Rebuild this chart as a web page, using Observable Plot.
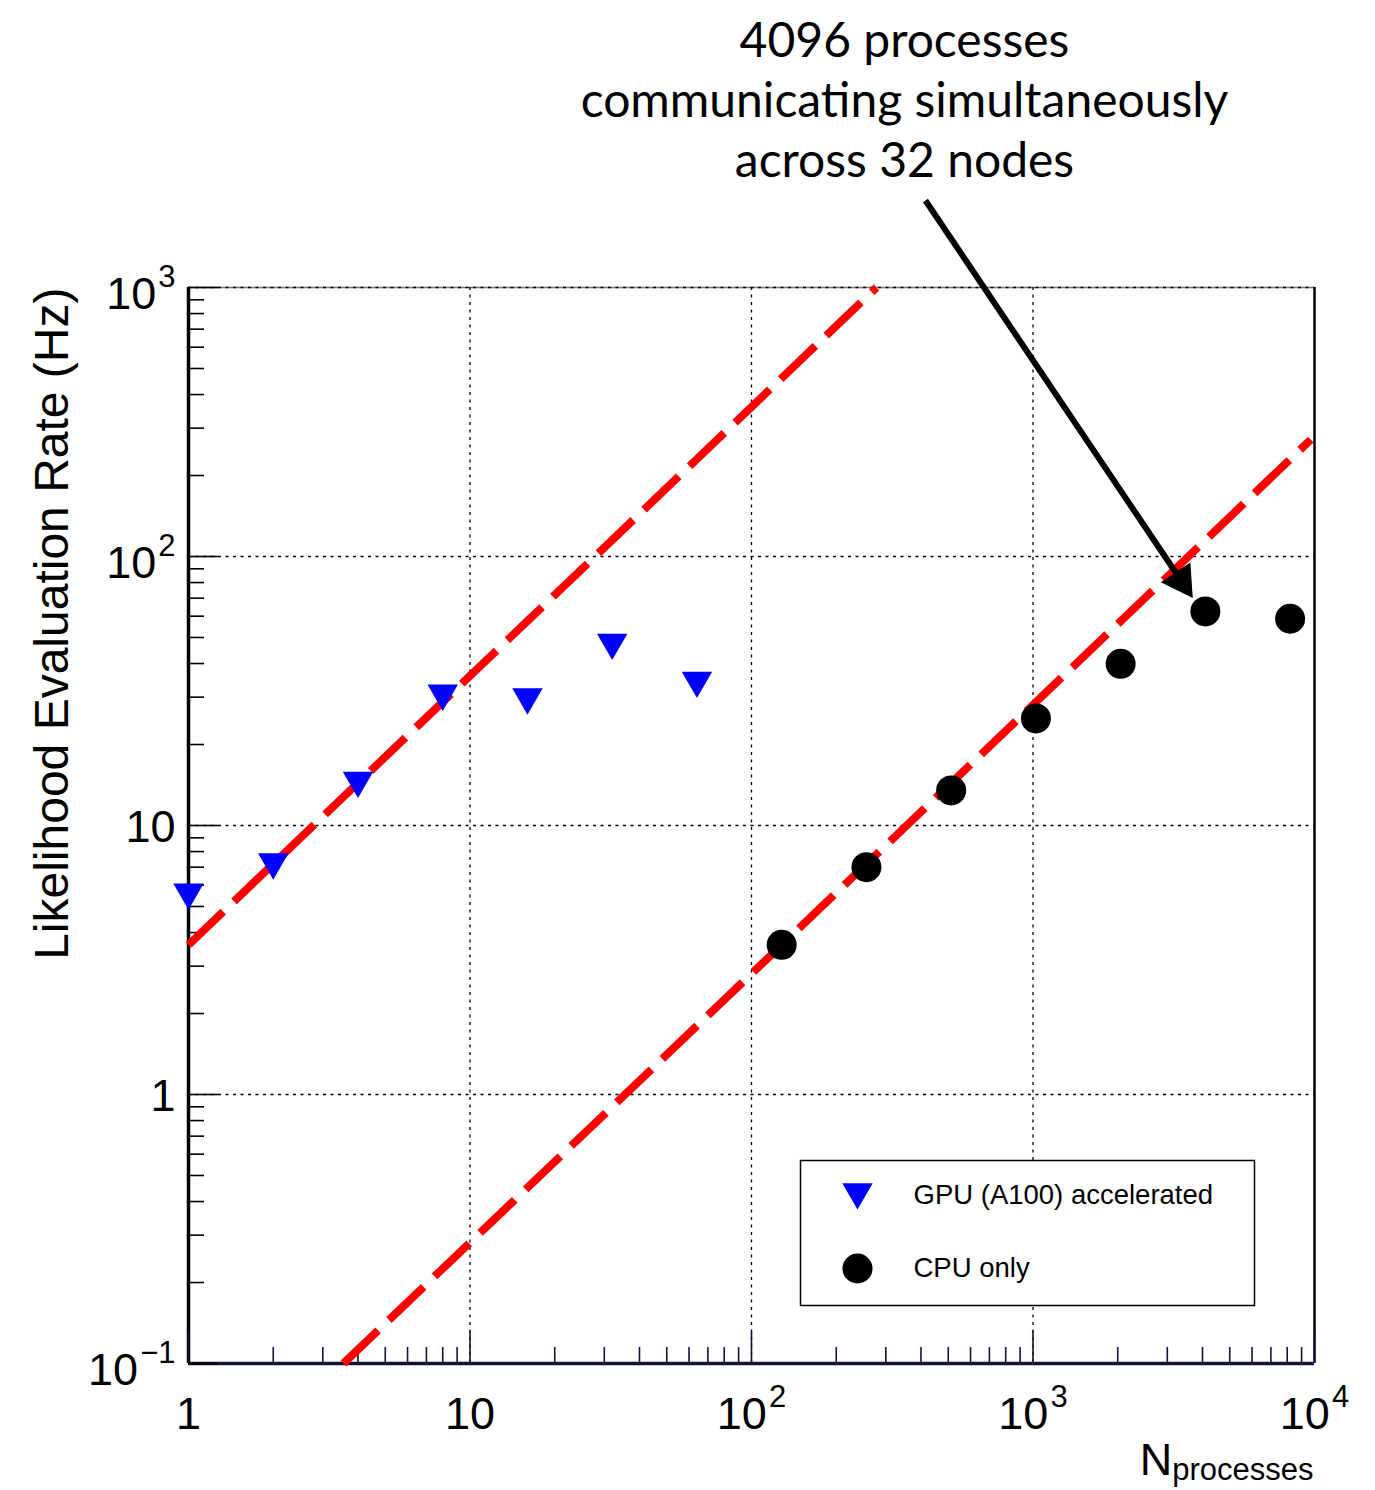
<!DOCTYPE html>
<html><head><meta charset="utf-8">
<script src="https://cdn.jsdelivr.net/npm/d3@7"></script>
<script src="https://cdn.jsdelivr.net/npm/@observablehq/plot@0.6"></script>
<style>body{margin:0;background:#fff} #chart svg{display:block;background:#fff}</style>
</head><body><div id="chart"></div>
<script>
// ---- data ----
const gpuProcesses = [1, 2, 4, 8, 16, 32, 64];
const gpuRate      = [5.65, 7.31, 14.7, 31.0, 30.0, 47.9, 34.6];
const cpuProcesses = [128, 256, 512, 1024, 2048, 4096, 8192];
const cpuRate      = [3.6, 7.0, 13.5, 25.0, 39.9, 62.5, 58.7];
const gpuIdealX = [1, 278];
const gpuIdealY = [3.6, 1000];
const cpuIdealX = [3.55, 9700];
const cpuIdealY = [0.1, 272];
const xTicks = [1, 10, 100, 1000, 10000];
const xTickLabels = ["1", "10", "10^2", "10^3", "10^4"];
const yTicks = [0.1, 1, 10, 100, 1000];
const yTickLabels = ["10^\u22121", "1", "10", "10^2", "10^3"];
const annotationLines = ["4096 processes", "communicating simultaneously", "across 32 nodes"];
const arrowTail = [415, 2106];
const arrowTip = [3687, 70.4];
const legendLabels = ["GPU (A100) accelerated", "CPU only"];
const xTitle = "N_processes";
const yTitle = "Likelihood Evaluation Rate (Hz)";

// ---- layout ----
const W = 1375, H = 1490, ML = 188, MR = 61, MT = 287, MB = 127;
const FW = W - ML - MR, FH = H - MT - MB;
const FONT = "Liberation Sans, Arial, Helvetica, sans-serif";

const xMinor = [], yMinor = [];
for (let e = 0; e < 4; e++) for (let m = 2; m <= 9; m++) xMinor.push(m * 10 ** e);
for (let e = -1; e < 3; e++) for (let m = 2; m <= 9; m++) yMinor.push(+(m * 10 ** e).toPrecision(3));

const gpu = gpuProcesses.map((x, i) => ({x, y: gpuRate[i]}));
const cpu = cpuProcesses.map((x, i) => ({x, y: cpuRate[i]}));
const gpuIdeal = gpuIdealX.map((x, i) => ({x, y: gpuIdealY[i]}));
const cpuIdeal = cpuIdealX.map((x, i) => ({x, y: cpuIdealY[i]}));
const yLab = yTicks.map((y, i) => ({y, label: yTickLabels[i], sup: yTickLabels[i].includes("^")}));
const xLab = xTicks.map((x, i) => ({x, label: xTickLabels[i]}));

const navy = "#12123a";
const dotted = {stroke: "black", strokeWidth: 1.3, strokeDasharray: "3,4.5"};

const plot = Plot.plot({
  width: W, height: H,
  marginLeft: ML, marginRight: MR, marginTop: MT, marginBottom: MB,
  x: {type: "log", domain: [1, 1e4], axis: null},
  y: {type: "log", domain: [0.1, 1000], axis: null},
  style: {fontFamily: FONT, background: "white"},
  marks: [
    // frame top + grid
    Plot.ruleY([yTicks[yTicks.length - 1]], {stroke: "#777", strokeWidth: 1.5}),
    Plot.ruleX(xTicks.slice(1, -1), dotted),
    Plot.ruleY(yTicks.slice(1), dotted),
    Plot.ruleX([xTicks[xTicks.length - 1]], {stroke: "black", strokeWidth: 2.5}),
    // axes
    Plot.ruleX([xTicks[0]], {stroke: "black", strokeWidth: 3.5}),
    Plot.ruleY([yTicks[0]], {stroke: navy, strokeWidth: 3.5}),
    Plot.tickX(xMinor, {x: d => d, insetTop: FH - 16, stroke: navy, strokeWidth: 1.6}),
    Plot.tickX(xTicks, {x: d => d, insetTop: FH - 32, stroke: navy, strokeWidth: 1.6}),
    Plot.tickY(yMinor, {y: d => d, insetRight: FW - 16, stroke: "black", strokeWidth: 1.6}),
    Plot.tickY(yTicks, {y: d => d, insetRight: FW - 30, stroke: "black", strokeWidth: 1.6}),
    // ideal scaling lines
    Plot.line(gpuIdeal, {x: "x", y: "y", stroke: "#ff0000", strokeWidth: 8, strokeDasharray: "48,15", strokeLinecap: "butt"}),
    Plot.line(cpuIdeal, {x: "x", y: "y", stroke: "#ff0000", strokeWidth: 8, strokeDasharray: "48,15", strokeLinecap: "butt"}),
    // data
    Plot.dot(gpu, {x: "x", y: "y", symbol: "triangle", rotate: 180, r: 11.3, fill: "#0000ff", stroke: null}),
    Plot.dot(cpu, {x: "x", y: "y", r: 15, fill: "black", stroke: null}),
    // legend
    Plot.frame({stroke: "black", strokeWidth: 1.5, fill: "white",
      insetLeft: 612, insetRight: 60, insetTop: 873, insetBottom: 58}),
    Plot.dot([0], {frameAnchor: "bottom-right", dx: -457, dy: -171.5, symbol: "triangle", rotate: 180, r: 11.3, fill: "#0000ff", stroke: null}),
    Plot.dot([0], {frameAnchor: "bottom-right", dx: -457, dy: -95, r: 15, fill: "black", stroke: null}),
    Plot.text([legendLabels[0]], {text: d => d, frameAnchor: "bottom-right", lineAnchor: "middle", dx: -401, dy: -168, textAnchor: "start", fontSize: 27.5, fontFamily: FONT}),
    Plot.text([legendLabels[1]], {text: d => d, frameAnchor: "bottom-right", lineAnchor: "middle", dx: -401, dy: -95, textAnchor: "start", fontSize: 27.5, fontFamily: FONT}),
    // tick labels
    Plot.text(xLab, {x: "x", text: "label", frameAnchor: "bottom", lineAnchor: "middle", dy: 50.6, textAnchor: "middle", fontSize: 45, fontFamily: FONT}),
    Plot.text(yLab, {filter: d => d.sup, y: "y", text: "label", frameAnchor: "left", lineAnchor: "middle", dx: -13, dy: 7, textAnchor: "end", fontSize: 45, fontFamily: FONT}),
    Plot.text(yLab, {filter: d => !d.sup, y: "y", text: "label", frameAnchor: "left", lineAnchor: "middle", dx: -13, dy: 2, textAnchor: "end", fontSize: 45, fontFamily: FONT}),
    // axis titles
    Plot.text([xTitle], {text: d => d, frameAnchor: "bottom-right", lineAnchor: "middle", dx: -1, dy: 97, textAnchor: "end", fontSize: 45, fontFamily: FONT}),
    Plot.text([yTitle], {text: d => d, frameAnchor: "top-left", lineAnchor: "middle", dx: -136, dy: 0, rotate: -90, textAnchor: "end", fontSize: 48, fontFamily: FONT}),
    // annotation
    Plot.text([annotationLines.join("\n")], {text: d => d, frameAnchor: "top", dx: 153, dy: -190, textAnchor: "middle", lineAnchor: "middle",
      fontSize: 48, lineHeight: 60 / 48, fontFamily: "Lato, 'Open Sans', sans-serif"}),
    Plot.arrow([0], {x1: () => arrowTail[0], y1: () => arrowTail[1], x2: () => arrowTip[0], y2: () => arrowTip[1],
      stroke: "black", strokeWidth: 6, headLength: 0, insetEnd: 22, strokeLinecap: "butt", clip: false}),
    Plot.dot([0], {x: () => arrowTip[0], y: () => arrowTip[1], symbol: "triangle", rotate: 146.1, r: 13.2,
      dx: -11.2, dy: -16.6, fill: "black", stroke: null})
  ]
});

// superscripts / subscripts in labels
d3.select(plot).selectAll("text").each(function() {
  if (this.querySelector("tspan")) return;
  const t = this.textContent;
  let m = t.match(/^(.*)\^(.*)$/);
  if (m) {
    this.textContent = m[1];
    d3.select(this).append("tspan").attr("dx", 2).attr("dy", -22).attr("font-size", 31).text(m[2]);
    return;
  }
  m = t.match(/^(.*)_(.*)$/);
  if (m) {
    this.textContent = m[1];
    d3.select(this).append("tspan").attr("dy", 5).attr("font-size", 31).text(m[2]);
  }
});

document.getElementById("chart").appendChild(plot);
</script>
</body></html>
